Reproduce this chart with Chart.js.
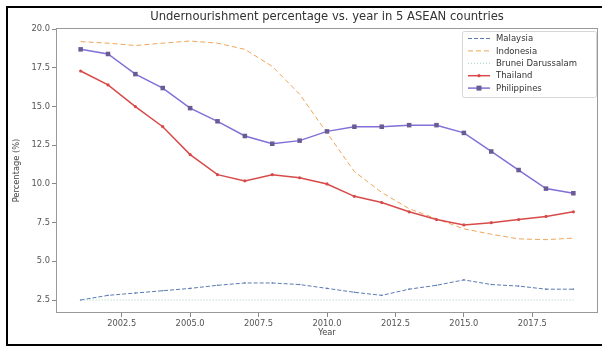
<!DOCTYPE html>
<html>
<head>
<meta charset="utf-8">
<script src="https://cdn.jsdelivr.net/npm/chart.js@4.4.1/dist/chart.umd.min.js"></script>
<style>
    html, body { margin: 0; padding: 0; background: #fff; }
    #wrap { position: relative; width: 602px; height: 347px; overflow: hidden; }
    #chart { position: absolute; left: 0; top: 0; }
    #frame {
        position: absolute; left: 6px; top: 6px;
        width: 600px; height: 336px;
        border: 2px solid #000; pointer-events: none;
    }
</style>
</head>
<body>
<div id="wrap">
    <canvas id="chart" width="602" height="347"></canvas>
    <div id="frame"></div>
</div>
<script>
// Undernourishment prevalence (%) by year
const years = [2001, 2002, 2003, 2004, 2005, 2006, 2007, 2008, 2009, 2010,
               2011, 2012, 2013, 2014, 2015, 2016, 2017, 2018, 2019];
const malaysia    = [2.5, 2.8, 2.95, 3.1, 3.25, 3.45, 3.6, 3.6, 3.5, 3.25,
                     3.0, 2.8, 3.2, 3.45, 3.8, 3.5, 3.4, 3.2, 3.2];
const indonesia   = [19.2, 19.1, 18.95, 19.1, 19.24, 19.1, 18.7, 17.6, 15.8, 13.3,
                     10.8, 9.45, 8.4, 7.75, 7.1, 6.75, 6.45, 6.4, 6.5];
const brunei      = [2.5, 2.5, 2.5, 2.5, 2.5, 2.5, 2.5, 2.5, 2.5, 2.5,
                     2.5, 2.5, 2.5, 2.5, 2.5, 2.5, 2.5, 2.5, 2.5];
const thailand    = [17.3, 16.4, 15.0, 13.7, 11.9, 10.6, 10.2, 10.6, 10.4, 10.0,
                     9.2, 8.8, 8.2, 7.7, 7.35, 7.5, 7.7, 7.9, 8.2];
const philippines = [18.7, 18.4, 17.1, 16.2, 14.9, 14.05, 13.1, 12.6, 12.8, 13.4,
                     13.7, 13.7, 13.8, 13.8, 13.3, 12.1, 10.9, 9.7, 9.4];

const xTicks = [2002.5, 2005.0, 2007.5, 2010.0, 2012.5, 2015.0, 2017.5];
const yTicks = [2.5, 5.0, 7.5, 10.0, 12.5, 15.0, 17.5, 20.0];

const FONT = 'DejaVu Sans';
const toPoints = vals => vals.map((v, i) => ({ x: years[i], y: v }));

const series = [
    { label: 'Malaysia', data: malaysia, color: '#5a7bb0', width: 1, dash: [4, 2], marker: 'circle', radius: 0.8 },
    { label: 'Indonesia', data: indonesia, color: '#eea55a', width: 1, dash: [5, 3], marker: 'circle', radius: 0 },
    { label: 'Brunei Darussalam', data: brunei, color: '#9fd3b2', width: 1, dash: [1, 2], marker: 'circle', radius: 0 },
    { label: 'Thailand', data: thailand, color: '#d84a4a', width: 1.5, dash: [], marker: 'circle', radius: 1.6 },
    { label: 'Philippines', data: philippines, color: '#8070d8', width: 1.5, dash: [], marker: 'rect', radius: 3.2, pointColor: '#6b5b95' }
];

const datasets = series.map((s, i) => ({
    label: s.label,
    data: toPoints(s.data),
    borderColor: s.color,
    borderWidth: s.width,
    borderDash: s.dash,
    pointStyle: s.marker,
    pointRadius: s.radius,
    pointBackgroundColor: s.pointColor || s.color,
    pointBorderColor: s.pointColor || s.color,
    pointBorderWidth: 0,
    fill: false,
    tension: 0,
    order: series.length - i
}));

// axes box + title centred over the plot
const framePlugin = {
    id: 'framePlugin',
    afterDatasetsDraw(chart) {
        const { ctx, chartArea: a } = chart;
        ctx.save();
        ctx.strokeStyle = '#999';
        ctx.lineWidth = 1;
        ctx.strokeRect(a.left + 0.5, a.top + 0.5, a.right - a.left - 1, a.bottom - a.top - 1);
        ctx.restore();
    },
    afterDraw(chart) {
        const { ctx, chartArea: a } = chart;
        ctx.save();
        ctx.fillStyle = '#333';
        ctx.font = `11.6px "${FONT}"`;
        ctx.textAlign = 'center';
        ctx.textBaseline = 'middle';
        ctx.fillText('Undernourishment percentage vs. year in 5 ASEAN countries', (a.left + a.right) / 2, 17);
        ctx.restore();
    }
};

// legend box in the upper right corner of the plot
const legendPlugin = {
    id: 'legendPlugin',
    afterDraw(chart) {
        const { ctx, chartArea: a } = chart;
        const boxX = a.right - 136, boxY = a.top + 3, boxW = 134, boxH = 66;
        ctx.save();
        ctx.fillStyle = 'rgba(255,255,255,0.85)';
        ctx.strokeStyle = '#d6d6d6';
        ctx.lineWidth = 1;
        ctx.beginPath();
        ctx.roundRect(boxX + 0.5, boxY + 0.5, boxW, boxH, 2);
        ctx.fill();
        ctx.stroke();

        ctx.font = `8.5px "${FONT}"`;
        ctx.textBaseline = 'middle';
        series.forEach((s, i) => {
            const y = boxY + 7.5 + i * 12.4;
            const x0 = boxX + 6, x1 = boxX + 28;
            ctx.strokeStyle = s.color;
            ctx.lineWidth = s.width;
            ctx.setLineDash(s.dash);
            ctx.beginPath();
            ctx.moveTo(x0, y);
            ctx.lineTo(x1, y);
            ctx.stroke();
            ctx.setLineDash([]);
            if (s.radius > 1) {
                ctx.fillStyle = s.pointColor || s.color;
                const cx = (x0 + x1) / 2;
                if (s.marker === 'rect') {
                    ctx.fillRect(cx - 2.5, y - 2.5, 5, 5);
                } else {
                    ctx.beginPath();
                    ctx.arc(cx, y, s.radius, 0, Math.PI * 2);
                    ctx.fill();
                }
            }
            ctx.fillStyle = '#333';
            ctx.fillText(s.label, boxX + 34, y + 0.5);
        });
        ctx.restore();
    }
};

const tickFont = { family: FONT, size: 8.3 };

new Chart(document.getElementById('chart'), {
    type: 'line',
    data: { datasets },
    options: {
        responsive: false,
        animation: false,
        devicePixelRatio: 1,
        layout: { padding: { top: 28, right: 4, left: 0, bottom: 0 } },
        plugins: {
            legend: { display: false },
            title: { display: false },
            tooltip: { enabled: false }
        },
        scales: {
            x: {
                type: 'linear',
                min: 2000.1,
                max: 2019.9,
                afterBuildTicks: scale => { scale.ticks = xTicks.map(v => ({ value: v })); },
                afterFit: scale => { scale.height = 34; },
                ticks: {
                    callback: v => v.toFixed(1),
                    font: tickFont,
                    color: '#555',
                    padding: 2,
                    maxRotation: 0,
                    autoSkip: false
                },
                grid: { drawOnChartArea: false, drawTicks: true, tickLength: 4, color: '#888' },
                border: { display: false },
                title: { display: true, text: 'Year', font: tickFont, color: '#444', padding: { top: 0, bottom: 9 } }
            },
            y: {
                min: 1.66,
                max: 20.08,
                afterBuildTicks: scale => { scale.ticks = yTicks.map(v => ({ value: v })); },
                afterFit: scale => { scale.width = 56; },
                ticks: {
                    callback: v => v.toFixed(1),
                    font: tickFont,
                    color: '#555',
                    padding: 2
                },
                grid: { drawOnChartArea: false, drawTicks: true, tickLength: 4, color: '#888' },
                border: { display: false },
                title: { display: true, text: 'Percentage (%)', font: tickFont, color: '#444', padding: { top: 12, bottom: 0 } }
            }
        }
    },
    plugins: [framePlugin, legendPlugin]
});
</script>
</body>
</html>
